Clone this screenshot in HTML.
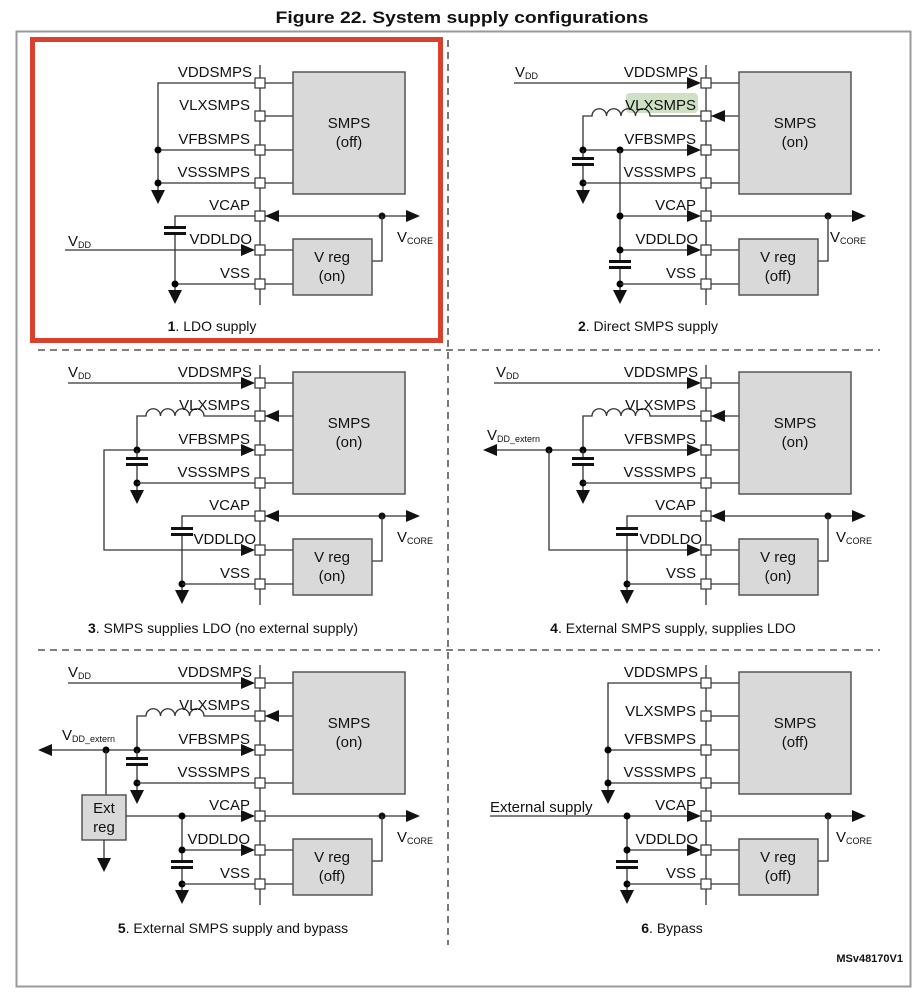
<!DOCTYPE html>
<html><head><meta charset="utf-8"><style>
html,body{margin:0;padding:0;background:#fff;}
svg{display:block;font-family:"Liberation Sans",Arial,sans-serif;}
.l{font-size:15px;fill:#111;text-anchor:end;}
.c{font-size:14px;fill:#111;text-anchor:middle;}
.b{font-size:15px;fill:#111;text-anchor:middle;}
line,path.w{stroke:#333;stroke-width:1.3;fill:none;}
</style></head><body>
<svg width="922" height="999" viewBox="0 0 922 999" xmlns="http://www.w3.org/2000/svg">
<defs>
<path id="ar" d="M-14,-6 L0,0 L-14,6Z" fill="#111"/>
<path id="gd" d="M-7,0 H7 L0,14Z" fill="#111"/>
<g id="cap"><rect x="-11" y="-4" width="22" height="3" fill="#111"/><rect x="-11" y="2" width="22" height="3" fill="#111"/></g>
<g id="base">
<line x1="260" y1="65" x2="260" y2="305"/>
<line x1="265" y1="83" x2="293" y2="83"/><line x1="265" y1="116" x2="293" y2="116"/>
<line x1="265" y1="150" x2="293" y2="150"/><line x1="265" y1="183" x2="293" y2="183"/>
<line x1="265" y1="250" x2="293" y2="250"/><line x1="265" y1="284" x2="293" y2="284"/>
<line x1="265" y1="216" x2="408" y2="216"/>
<use href="#ar" transform="translate(420,216)"/>
<circle cx="382" cy="216" r="3.5" fill="#111"/>
<path class="w" d="M372,261 H382 V216"/>
<rect x="293" y="72" width="112" height="122" fill="#d9d9d9" stroke="#555" stroke-width="1.5"/>
<rect x="293" y="239" width="79" height="56" fill="#d9d9d9" stroke="#555" stroke-width="1.5"/>
<g fill="#fff" stroke="#333" stroke-width="1.2">
<rect x="255" y="78" width="10" height="10"/><rect x="255" y="111" width="10" height="10"/>
<rect x="255" y="145" width="10" height="10"/><rect x="255" y="178" width="10" height="10"/>
<rect x="255" y="211" width="10" height="10"/><rect x="255" y="245" width="10" height="10"/>
<rect x="255" y="279" width="10" height="10"/>
</g>
</g>
<path id="ind" class="w" d="M137,150 V116 H146 a7.25,7.25 0 0 1 14.5,0 a7.25,7.25 0 0 1 14.5,0 a7.25,7.25 0 0 1 14.5,0 a7.25,7.25 0 0 1 14.5,0 H255"/>
</defs>

<text x="462" y="23" font-size="17" font-weight="bold" text-anchor="middle" textLength="373" lengthAdjust="spacingAndGlyphs" fill="#111">Figure 22. System supply configurations</text>
<rect x="16.5" y="31.5" width="894" height="955" fill="none" stroke="#999" stroke-width="2"/>
<line x1="448" y1="40" x2="448" y2="945" stroke="#555" stroke-width="1.3" stroke-dasharray="7,5"/>
<line x1="38" y1="350" x2="880" y2="350" stroke="#555" stroke-width="1.3" stroke-dasharray="7,5"/>
<line x1="38" y1="650" x2="880" y2="650" stroke="#555" stroke-width="1.3" stroke-dasharray="7,5"/>

<!-- Panel 1 -->
<g>
<use href="#base"/>
<path class="w" d="M255,83 H158 V190"/><use href="#gd" transform="translate(158,190)"/>
<line x1="158" y1="150" x2="255" y2="150"/><line x1="158" y1="183" x2="255" y2="183"/>
<circle cx="158" cy="150" r="3.5"/><circle cx="158" cy="183" r="3.5"/>
<use href="#ar" transform="translate(265,216) rotate(180)"/>
<path class="w" d="M255,216 H175 V227 M175,233 V290"/><use href="#cap" transform="translate(175,230)"/>
<use href="#gd" transform="translate(175,290)"/>
<line x1="175" y1="284" x2="255" y2="284"/><circle cx="175" cy="284" r="3.5"/>
<line x1="65" y1="250" x2="243" y2="250"/><use href="#ar" transform="translate(255,250)"/>
<text x="68" y="246" font-size="15" fill="#111">V<tspan font-size="9" dy="2">DD</tspan></text>
<text class="l" x="252" y="77">VDDSMPS</text><text class="l" x="250" y="110">VLXSMPS</text>
<text class="l" x="250" y="144">VFBSMPS</text><text class="l" x="250" y="177">VSSSMPS</text>
<text class="l" x="250" y="210">VCAP</text><text class="l" x="252" y="244">VDDLDO</text><text class="l" x="250" y="278">VSS</text>
<text class="b" x="349" y="128">SMPS</text><text class="b" x="349" y="147">(off)</text>
<text class="b" x="332" y="262">V reg</text><text class="b" x="332" y="281">(on)</text>
<text x="397" y="242" font-size="15" fill="#111">V<tspan font-size="9" dy="2">CORE</tspan></text>
<text class="c" x="212" y="331"><tspan font-weight="bold">1</tspan>. LDO supply</text>
<rect x="32.5" y="39.5" width="408" height="301" fill="none" stroke="#d9412f" stroke-width="5"/>
</g>

<!-- Panel 2 -->
<g transform="translate(446,0)">
<rect x="180" y="93" width="72" height="20" rx="4" fill="#cfe0c4"/>
<use href="#base"/>
<line x1="68" y1="83" x2="243" y2="83"/><use href="#ar" transform="translate(255,83)"/>
<use href="#ind"/><use href="#ar" transform="translate(265,116) rotate(180)"/>
<line x1="137" y1="150" x2="243" y2="150"/><use href="#ar" transform="translate(255,150)"/>
<circle cx="137" cy="150" r="3.5"/><circle cx="174" cy="150" r="3.5"/>
<path class="w" d="M137,150 V158 M137,164 V190"/><use href="#cap" transform="translate(137,161)"/>
<circle cx="137" cy="183" r="3.5"/><line x1="137" y1="183" x2="255" y2="183"/>
<use href="#gd" transform="translate(137,190)"/>
<path class="w" d="M174,150 V261 M174,267 V290"/><use href="#cap" transform="translate(174,264)"/>
<line x1="174" y1="216" x2="243" y2="216"/><use href="#ar" transform="translate(255,216)"/>
<line x1="174" y1="250" x2="243" y2="250"/><use href="#ar" transform="translate(255,250)"/>
<circle cx="174" cy="216" r="3.5"/><circle cx="174" cy="250" r="3.5"/><circle cx="174" cy="284" r="3.5"/>
<line x1="174" y1="284" x2="255" y2="284"/><use href="#gd" transform="translate(174,290)"/>
<text x="69" y="77" font-size="15" fill="#111">V<tspan font-size="9" dy="2">DD</tspan></text>
<text class="l" x="252" y="77">VDDSMPS</text><text class="l" x="250" y="110">VLXSMPS</text>
<text class="l" x="250" y="144">VFBSMPS</text><text class="l" x="250" y="177">VSSSMPS</text>
<text class="l" x="250" y="210">VCAP</text><text class="l" x="252" y="244">VDDLDO</text><text class="l" x="250" y="278">VSS</text>
<text class="b" x="349" y="128">SMPS</text><text class="b" x="349" y="147">(on)</text>
<text class="b" x="332" y="262">V reg</text><text class="b" x="332" y="281">(off)</text>
<text x="384" y="242" font-size="15" fill="#111">V<tspan font-size="9" dy="2">CORE</tspan></text>
<text class="c" x="202" y="331"><tspan font-weight="bold">2</tspan>. Direct SMPS supply</text>
</g>

<!-- Panel 3 -->
<g transform="translate(0,300)">
<use href="#base"/>
<line x1="68" y1="83" x2="243" y2="83"/><use href="#ar" transform="translate(255,83)"/>
<use href="#ind"/><use href="#ar" transform="translate(265,116) rotate(180)"/>
<path class="w" d="M243,150 H104 V250 H243"/>
<use href="#ar" transform="translate(255,150)"/><use href="#ar" transform="translate(255,250)"/>
<circle cx="137" cy="150" r="3.5"/>
<path class="w" d="M137,150 V158 M137,164 V190"/><use href="#cap" transform="translate(137,161)"/>
<circle cx="137" cy="183" r="3.5"/><line x1="137" y1="183" x2="255" y2="183"/>
<use href="#gd" transform="translate(137,190)"/>
<use href="#ar" transform="translate(265,216) rotate(180)"/>
<path class="w" d="M255,216 H182 V228 M182,234 V290"/><use href="#cap" transform="translate(182,231)"/>
<circle cx="182" cy="284" r="3.5"/><line x1="182" y1="284" x2="255" y2="284"/>
<use href="#gd" transform="translate(182,290)"/>
<text x="68" y="77" font-size="15" fill="#111">V<tspan font-size="9" dy="2">DD</tspan></text>
<text class="l" x="252" y="77">VDDSMPS</text><text class="l" x="250" y="110">VLXSMPS</text>
<text class="l" x="250" y="144">VFBSMPS</text><text class="l" x="250" y="177">VSSSMPS</text>
<text class="l" x="250" y="210">VCAP</text><text class="l" x="256" y="244">VDDLDO</text><text class="l" x="250" y="278">VSS</text>
<text class="b" x="349" y="128">SMPS</text><text class="b" x="349" y="147">(on)</text>
<text class="b" x="332" y="262">V reg</text><text class="b" x="332" y="281">(on)</text>
<text x="397" y="242" font-size="15" fill="#111">V<tspan font-size="9" dy="2">CORE</tspan></text>
<text class="c" x="223" y="333"><tspan font-weight="bold">3</tspan>. SMPS supplies LDO (no external supply)</text>
</g>

<!-- Panel 4 -->
<g transform="translate(446,300)">
<use href="#base"/>
<line x1="48" y1="83" x2="243" y2="83"/><use href="#ar" transform="translate(255,83)"/>
<use href="#ind"/><use href="#ar" transform="translate(265,116) rotate(180)"/>
<line x1="45" y1="150" x2="243" y2="150"/><use href="#ar" transform="translate(255,150)"/>
<use href="#ar" transform="translate(37,150) rotate(180)"/>
<circle cx="103" cy="150" r="3.5"/><circle cx="137" cy="150" r="3.5"/>
<path class="w" d="M103,150 V250 H243"/><use href="#ar" transform="translate(255,250)"/>
<path class="w" d="M137,150 V158 M137,164 V190"/><use href="#cap" transform="translate(137,161)"/>
<circle cx="137" cy="183" r="3.5"/><line x1="137" y1="183" x2="255" y2="183"/>
<use href="#gd" transform="translate(137,190)"/>
<use href="#ar" transform="translate(265,216) rotate(180)"/>
<path class="w" d="M255,216 H181 V228 M181,234 V290"/><use href="#cap" transform="translate(181,231)"/>
<circle cx="181" cy="284" r="3.5"/><line x1="181" y1="284" x2="255" y2="284"/>
<use href="#gd" transform="translate(181,290)"/>
<text x="50" y="77" font-size="15" fill="#111">V<tspan font-size="9" dy="2">DD</tspan></text>
<text x="41" y="140" font-size="15" fill="#111">V<tspan font-size="9" dy="2">DD_extern</tspan></text>
<text class="l" x="252" y="77">VDDSMPS</text><text class="l" x="250" y="110">VLXSMPS</text>
<text class="l" x="250" y="144">VFBSMPS</text><text class="l" x="250" y="177">VSSSMPS</text>
<text class="l" x="250" y="210">VCAP</text><text class="l" x="256" y="244">VDDLDO</text><text class="l" x="250" y="278">VSS</text>
<text class="b" x="349" y="128">SMPS</text><text class="b" x="349" y="147">(on)</text>
<text class="b" x="332" y="262">V reg</text><text class="b" x="332" y="281">(on)</text>
<text x="390" y="242" font-size="15" fill="#111">V<tspan font-size="9" dy="2">CORE</tspan></text>
<text class="c" x="227" y="333"><tspan font-weight="bold">4</tspan>. External SMPS supply, supplies LDO</text>
</g>

<!-- Panel 5 -->
<g transform="translate(0,600)">
<use href="#base"/>
<line x1="68" y1="83" x2="243" y2="83"/><use href="#ar" transform="translate(255,83)"/>
<use href="#ind"/><use href="#ar" transform="translate(265,116) rotate(180)"/>
<line x1="46" y1="150" x2="243" y2="150"/><use href="#ar" transform="translate(255,150)"/>
<use href="#ar" transform="translate(38,150) rotate(180)"/>
<circle cx="106" cy="150" r="3.5"/><circle cx="137" cy="150" r="3.5"/>
<line x1="106" y1="150" x2="106" y2="195"/>
<rect x="82" y="195" width="44" height="45" fill="#d9d9d9" stroke="#555" stroke-width="1.5"/>
<text class="b" x="104" y="213">Ext</text><text class="b" x="104" y="232">reg</text>
<line x1="104" y1="240" x2="104" y2="258"/><use href="#gd" transform="translate(104,258)"/>
<path class="w" d="M137,150 V158 M137,164 V190"/><use href="#cap" transform="translate(137,161)"/>
<circle cx="137" cy="183" r="3.5"/><line x1="137" y1="183" x2="255" y2="183"/>
<use href="#gd" transform="translate(137,190)"/>
<line x1="126" y1="216" x2="243" y2="216"/><use href="#ar" transform="translate(255,216)"/>
<path class="w" d="M182,216 V261 M182,267 V290"/><use href="#cap" transform="translate(182,264)"/>
<line x1="182" y1="250" x2="243" y2="250"/><use href="#ar" transform="translate(255,250)"/>
<circle cx="182" cy="216" r="3.5"/><circle cx="182" cy="250" r="3.5"/><circle cx="182" cy="284" r="3.5"/>
<line x1="182" y1="284" x2="255" y2="284"/><use href="#gd" transform="translate(182,290)"/>
<text x="68" y="77" font-size="15" fill="#111">V<tspan font-size="9" dy="2">DD</tspan></text>
<text x="62" y="140" font-size="15" fill="#111">V<tspan font-size="9" dy="2">DD_extern</tspan></text>
<text class="l" x="252" y="77">VDDSMPS</text><text class="l" x="250" y="110">VLXSMPS</text>
<text class="l" x="250" y="144">VFBSMPS</text><text class="l" x="250" y="177">VSSSMPS</text>
<text class="l" x="250" y="210">VCAP</text><text class="l" x="250" y="244">VDDLDO</text><text class="l" x="250" y="278">VSS</text>
<text class="b" x="349" y="128">SMPS</text><text class="b" x="349" y="147">(on)</text>
<text class="b" x="332" y="262">V reg</text><text class="b" x="332" y="281">(off)</text>
<text x="397" y="242" font-size="15" fill="#111">V<tspan font-size="9" dy="2">CORE</tspan></text>
<text class="c" x="233" y="333"><tspan font-weight="bold">5</tspan>. External SMPS supply and  bypass</text>
</g>

<!-- Panel 6 -->
<g transform="translate(446,600)">
<use href="#base"/>
<path class="w" d="M255,83 H162 V190"/><use href="#gd" transform="translate(162,190)"/>
<line x1="162" y1="150" x2="255" y2="150"/><line x1="162" y1="183" x2="255" y2="183"/>
<circle cx="162" cy="150" r="3.5"/><circle cx="162" cy="183" r="3.5"/>
<line x1="44" y1="216" x2="243" y2="216"/><use href="#ar" transform="translate(255,216)"/>
<path class="w" d="M181,216 V261 M181,267 V290"/><use href="#cap" transform="translate(181,264)"/>
<line x1="181" y1="250" x2="243" y2="250"/><use href="#ar" transform="translate(255,250)"/>
<circle cx="181" cy="216" r="3.5"/><circle cx="181" cy="250" r="3.5"/><circle cx="181" cy="284" r="3.5"/>
<line x1="181" y1="284" x2="255" y2="284"/><use href="#gd" transform="translate(181,290)"/>
<text x="44" y="212" font-size="15" fill="#111">External supply</text>
<text class="l" x="252" y="77">VDDSMPS</text><text class="l" x="250" y="116">VLXSMPS</text>
<text class="l" x="250" y="144">VFBSMPS</text><text class="l" x="250" y="177">VSSSMPS</text>
<text class="l" x="250" y="210">VCAP</text><text class="l" x="252" y="244">VDDLDO</text><text class="l" x="250" y="278">VSS</text>
<text class="b" x="349" y="128">SMPS</text><text class="b" x="349" y="147">(off)</text>
<text class="b" x="332" y="262">V reg</text><text class="b" x="332" y="281">(off)</text>
<text x="390" y="242" font-size="15" fill="#111">V<tspan font-size="9" dy="2">CORE</tspan></text>
<text class="c" x="226" y="333"><tspan font-weight="bold">6</tspan>. Bypass</text>
</g>
<text x="903" y="962" font-size="11" font-weight="bold" text-anchor="end" fill="#111">MSv48170V1</text>
</svg>
</body></html>
